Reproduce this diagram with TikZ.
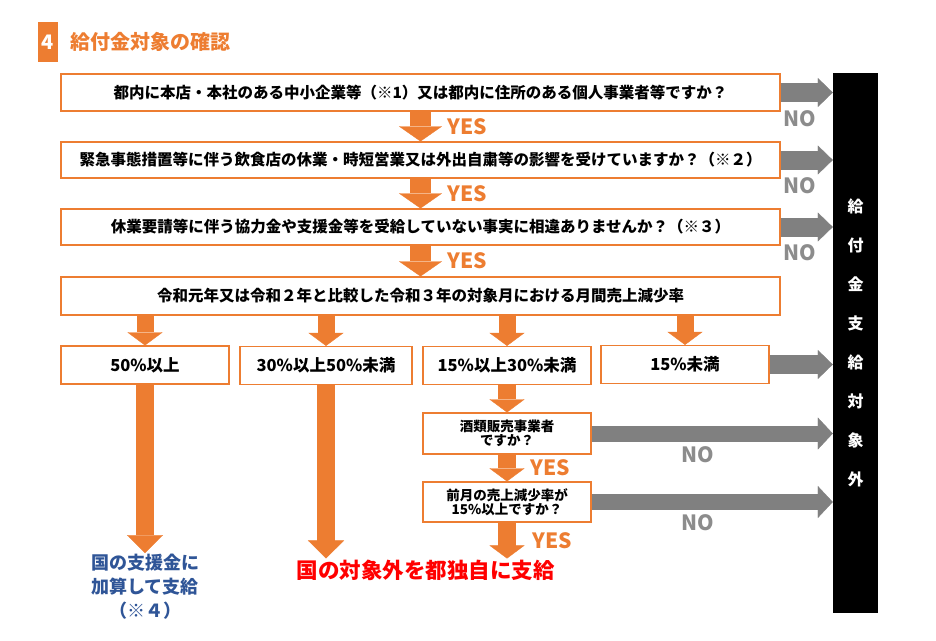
\documentclass[tikz,border=0pt]{standalone}
\usepackage{fontspec}
\setmainfont{Noto Sans CJK JP}
\usetikzlibrary{arrows.meta}
\definecolor{orangeA}{HTML}{ED7D31}
\definecolor{grayA}{HTML}{808080}
\definecolor{grayT}{HTML}{8C8C8C}
\definecolor{blueA}{HTML}{2F5597}
\definecolor{redA}{HTML}{FF0000}
\tikzset{
  qbox/.style={draw=orangeA, line width=1.2pt, fill=white, minimum width=719pt,
    minimum height=37pt, inner sep=1pt, font=\fontsize{15.5}{18}\selectfont\bfseries},
  rbox/.style={draw=orangeA, line width=1.2pt, fill=white, minimum width=168pt,
    minimum height=38pt, inner sep=1pt, font=\fontsize{16.5}{19}\selectfont\bfseries},
  sbox/.style={rbox, align=center, font=\fontsize{13.5}{14.5}\selectfont\bfseries},
  yesarrow/.style={draw=orangeA, line width=21pt,
    -{Triangle[length=15pt, width=43pt, line width=0.3pt]}},
  downarrow/.style={draw=orangeA, line width=17pt,
    -{Triangle[length=13pt, width=35pt, line width=0.3pt]}},
  longarrow/.style={draw=orangeA, line width=18pt,
    -{Triangle[length=18pt, width=36pt, line width=0.3pt]}},
  noarrow/.style={draw=grayA, line width=19pt,
    -{Triangle[length=15pt, width=29pt, line width=0.3pt]}},
  yeslabel/.style={text=orangeA, font=\fontsize{21}{24}\selectfont\bfseries},
  nolabel/.style={text=grayT, font=\fontsize{21}{24}\selectfont\bfseries},
}
\begin{document}
\begin{tikzpicture}[x=1pt,y=-1pt]
\useasboundingbox (0,0) rectangle (936,640);

% Title
\node[fill=orangeA, text=white, minimum width=20pt, minimum height=40pt, inner sep=0pt,
  font=\fontsize{20}{22}\selectfont\bfseries] (num) at (48,42) {4};
\node[anchor=west, inner sep=0pt, text=orangeA, font=\fontsize{20}{22}\selectfont\bfseries]
  (ttl) at (70,42) {給付金対象の確認};

% Questions
\node[qbox] (q1) at (420.5,92.5) {都内に本店・本社のある中小企業等（※1）又は都内に住所のある個人事業者等ですか？};
\node[qbox, minimum height=36pt] (q2) at (420.5,160) {緊急事態措置等に伴う飲食店の休業・時短営業又は外出自粛等の影響を受けていますか？（※２）};
\node[qbox, minimum height=36pt] (q3) at (420.5,227) {休業要請等に伴う協力金や支援金等を受給していない事実に相違ありませんか？（※３）};
\node[qbox, minimum height=38pt] (q4) at (420.5,296) {令和元年又は令和２年と比較した令和３年の対象月における月間売上減少率};

% Non-target bar
\node[fill=black, minimum width=45pt, minimum height=540pt, inner sep=0pt, text=white,
  align=center, font=\fontsize{16}{39}\selectfont\bfseries] (bar) at (855.5,343)
  {給\\付\\金\\支\\給\\対\\象\\外};

% Rates
\node[rbox] (r50) at (145,365) {50\%以上};
\node[rbox, minimum width=172pt] (r30) at (326,365.5) {30\%以上50\%未満};
\node[rbox] (r15) at (507,365.5) {15\%以上30\%未満};
\node[rbox] (rlow) at (685,364.5) {15\%未満};

% Extra checks
\node[sbox, minimum height=41pt] (liq) at (507,433.5) {酒類販売事業者\\ですか？};
\node[sbox, minimum height=40pt] (prev) at (507,502) {前月の売上減少率が\\15\%以上ですか？};

% Results
\node[inner sep=1pt, text=blueA, align=center, font=\fontsize{18}{24}\selectfont\bfseries]
  (sup50) at (145,587) {国の支援金に\\加算して支給\\（※４）};
\node[inner sep=1pt, text=redA, font=\fontsize{21.5}{24}\selectfont\bfseries]
  (tojo) at (425.5,570) {国の対象外を都独自に支給};

% YES arrows
\draw[yesarrow] (q1.south) -- (q2.north) node[yeslabel, midway, xshift=47pt] {YES};
\draw[yesarrow] (q2.south) -- (q3.north) node[yeslabel, midway, xshift=47pt] {YES};
\draw[yesarrow] (q3.south) -- (q4.north) node[yeslabel, midway, xshift=47pt] {YES};

% NO arrows
\draw[noarrow] (q1.east) -- (q1.east -| bar.west) node[nolabel, pos=0.37, yshift=-26pt] {NO};
\draw[noarrow] (q2.east) -- (q2.east -| bar.west) node[nolabel, pos=0.37, yshift=-26pt] {NO};
\draw[noarrow] (q3.east) -- (q3.east -| bar.west) node[nolabel, pos=0.37, yshift=-26pt] {NO};
\draw[noarrow] (rlow.east) -- (rlow.east -| bar.west);
\draw[noarrow, line width=16pt, -{Triangle[length=15pt, width=32pt, line width=0.3pt]}]
  (liq.east) -- (liq.east -| bar.west) node[nolabel, pos=0.44, yshift=-21pt] {NO};
\draw[noarrow, line width=16pt, -{Triangle[length=15pt, width=32pt, line width=0.3pt]}]
  (prev.east) -- (prev.east -| bar.west) node[nolabel, pos=0.44, yshift=-21pt] {NO};

% Split by rate
\draw[downarrow] (q4.south -| r50) -- (r50.north);
\draw[downarrow] (q4.south -| r30) -- (r30.north);
\draw[downarrow] (q4.south -| r15) -- (r15.north);
\draw[downarrow] (q4.south -| rlow) -- (rlow.north);
\draw[downarrow, line width=18pt] (r15.south) -- (liq.north);
\draw[downarrow, line width=18pt] (liq.south) -- (prev.north) node[yeslabel, midway, xshift=43pt] {YES};
\draw[downarrow, line width=18pt] (prev.south) -- (prev.south |- tojo.north) node[yeslabel, midway, xshift=45pt] {YES};

% Long arrows
\draw[longarrow] (r50.south) -- (sup50.north);
\draw[longarrow] (r30.south) -- (r30.south |- tojo.north);
\end{tikzpicture}
\end{document}
